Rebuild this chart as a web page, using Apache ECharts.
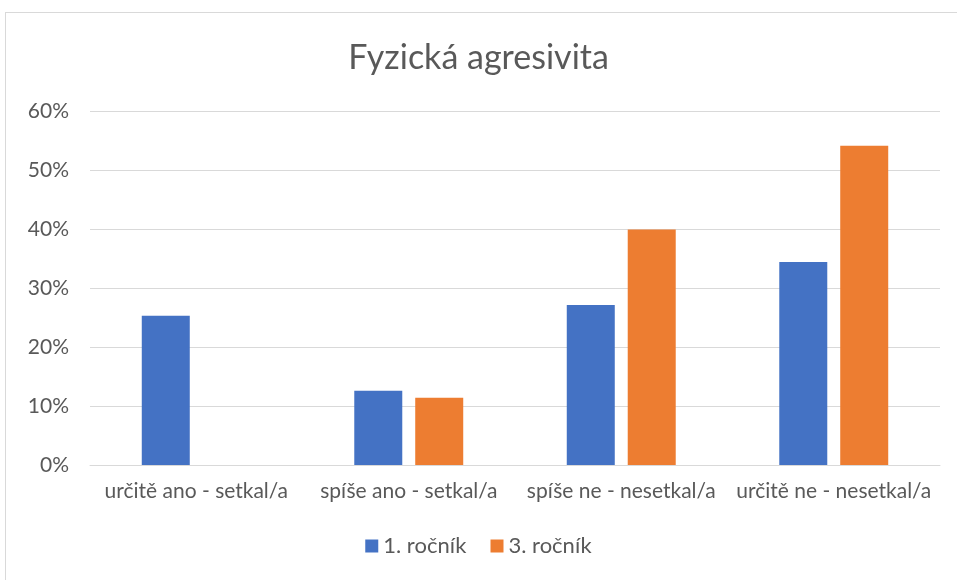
<!DOCTYPE html>
<html>
<head>
<meta charset="utf-8">
<script src="https://cdn.jsdelivr.net/npm/echarts@6/dist/echarts.min.js"></script>
<style>
  html, body { margin: 0; padding: 0; background: #fff; }
  #frame { position: absolute; left: 5px; top: 12px; width: 960px; height: 580px; border: 1px solid #d9d9d9; box-sizing: border-box; }
  #chart { position: absolute; left: 0; top: 0; width: 957px; height: 580px; }
</style>
</head>
<body>
<div id="frame"></div>
<div id="chart"></div>
<script>
const categories = ['určitě ano - setkal/a', 'spíše ano - setkal/a', 'spíše ne - nesetkal/a', 'určitě ne - nesetkal/a'];
const rocnik1 = [25.3, 12.6, 27.1, 34.4];
const rocnik3 = [0, 11.4, 39.9, 54.1];
const yTicks = [0, 10, 20, 30, 40, 50, 60];

const chart = echarts.init(document.getElementById('chart'));

// shared text style, Calibri-ish look
const font = 'Lato, "Open Sans", sans-serif';

chart.setOption({
    animation: false,
    title: {
        text: 'Fyzická agresivita',
        left: 'center',
        top: 36,
        textStyle: { fontFamily: font, fontSize: 34, fontWeight: 'normal', color: '#595959' }
    },
    legend: {
        bottom: 18,
        left: 'center',
        itemWidth: 13,
        itemHeight: 13,
        itemGap: 24,
        icon: 'rect',
        textStyle: { fontFamily: font, fontSize: 22, color: '#595959' },
        data: ['1. ročník', '3. ročník']
    },
    grid: { left: 90, right: 17, top: 111, bottom: 115 },
    xAxis: {
        type: 'category',
        data: categories,
        axisLine: { lineStyle: { color: '#d9d9d9' } },
        axisTick: { show: false },
        axisLabel: { fontFamily: font, fontSize: 21, color: '#595959', margin: 16, interval: 0 }
    },
    yAxis: {
        type: 'value',
        min: yTicks[0],
        max: yTicks[yTicks.length - 1],
        interval: 10,
        axisLine: { show: false },
        axisTick: { show: false },
        splitLine: { lineStyle: { color: '#d9d9d9', width: 1 } },
        axisLabel: { fontFamily: font, fontSize: 21, color: '#595959', margin: 21, formatter: '{value}%' }
    },
    series: [
        {
            name: '1. ročník',
            type: 'bar',
            data: rocnik1,
            barWidth: 48,
            barGap: '27%',
            itemStyle: { color: '#4472c4' }
        },
        {
            name: '3. ročník',
            type: 'bar',
            data: rocnik3,
            barWidth: 48,
            itemStyle: { color: '#ed7d31' }
        }
    ]
});
</script>
</body>
</html>
